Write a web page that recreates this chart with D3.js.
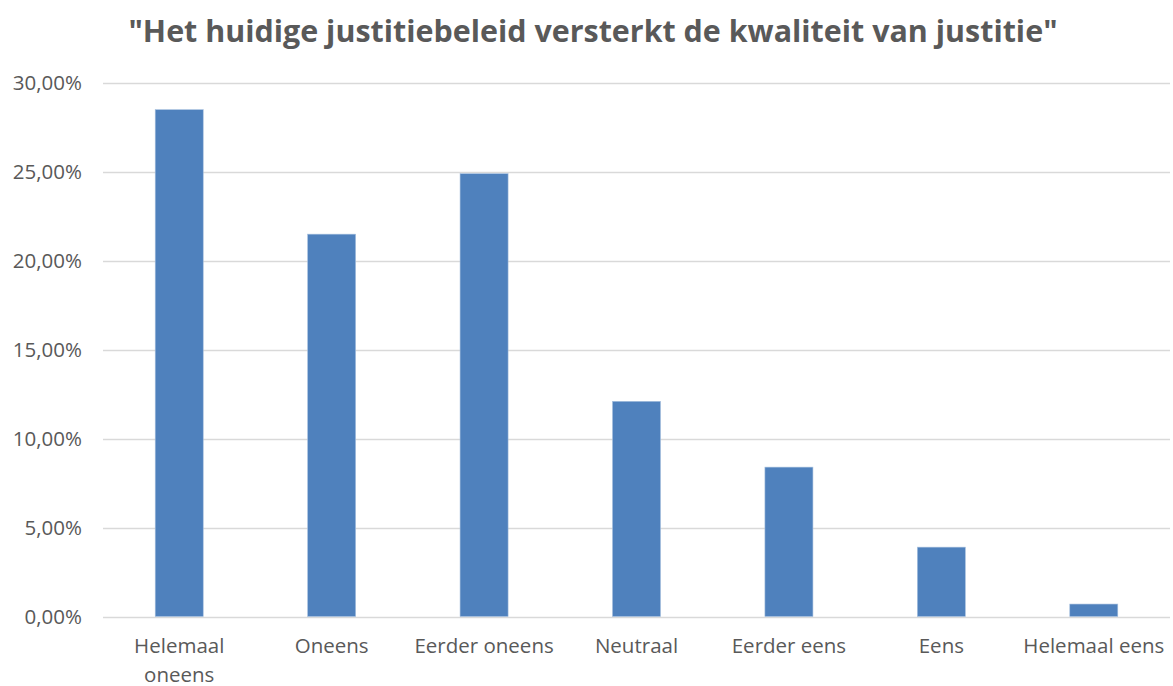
<!DOCTYPE html>
<html>
<head>
<meta charset="utf-8">
<script src="https://cdn.jsdelivr.net/npm/d3@7"></script>
<style>
  body { margin: 0; background: #fff; }
  svg { display: block; }
</style>
</head>
<body>
<div id="chart"></div>
<script>
// Data
var categories = ["Helemaal oneens", "Oneens", "Eerder oneens", "Neutraal", "Eerder eens", "Eens", "Helemaal eens"];
var values = [28.5, 21.5, 24.9, 12.1, 8.4, 3.9, 0.7];
var yTicks = [0, 5, 10, 15, 20, 25, 30];
var title = "\"Het huidige justitiebeleid versterkt de kwaliteit van justitie\"";

var W = 1173, H = 686,
    margin = {top: 83, right: 3, bottom: 70, left: 103},
    width = W - margin.left - margin.right,
    height = H - margin.top - margin.bottom,
    font = "'Open Sans', sans-serif",
    textColor = "#595959";

var svg = d3.select("#chart").append("svg")
  .attr("width", W)
  .attr("height", H);

// Title
svg.append("text")
  .attr("x", 593)
  .attr("y", 42)
  .attr("text-anchor", "middle")
  .attr("font-family", font)
  .attr("font-weight", "bold")
  .attr("font-size", "31px")
  .attr("fill", textColor)
  .attr("textLength", 929)
  .attr("lengthAdjust", "spacingAndGlyphs")
  .text(title);

var g = svg.append("g")
  .attr("transform", "translate(" + margin.left + "," + margin.top + ")");

var x = d3.scaleBand()
  .domain(categories)
  .range([0, width])
  .paddingInner(0.685)
  .paddingOuter(0.3425);

var y = d3.scaleLinear()
  .domain([0, 30])
  .range([height + 0.5, 0]);

// Gridlines
g.selectAll(".grid")
  .data(yTicks)
  .enter().append("line")
    .attr("class", "grid")
    .attr("x1", 0)
    .attr("x2", width)
    .attr("y1", function(d) { return Math.round(y(d)) + 0.5; })
    .attr("y2", function(d) { return Math.round(y(d)) + 0.5; })
    .attr("stroke", "#d9d9d9")
    .attr("stroke-width", 1.5);

// Y axis labels
var yAxis = d3.axisLeft(y)
  .tickSize(0)
  .tickValues(yTicks)
  .tickPadding(21)
  .tickFormat(function(d) { return d.toFixed(2).replace(".", ",") + "%"; });

g.append("g")
  .call(yAxis)
  .call(function(a) {
    a.select(".domain").remove();
    a.selectAll("text")
      .attr("font-family", font)
      .attr("font-size", "20.5px")
      .attr("fill", textColor);
  });

// Bars
g.selectAll(".bar")
  .data(values)
  .enter().append("rect")
    .attr("class", "bar")
    .attr("x", function(d, i) { return x(categories[i]); })
    .attr("width", x.bandwidth())
    .attr("y", function(d) { return y(d); })
    .attr("height", function(d) { return y(0) - y(d); })
    .attr("fill", "#4f81bd")
    .attr("stroke", "#a7c0de")
    .attr("stroke-width", 0.6);

// X axis labels (wrapped to band width)
var xAxis = d3.axisBottom(x).tickSize(0).tickPadding(0);

var xa = g.append("g")
  .attr("transform", "translate(0," + height + ")")
  .call(xAxis);
xa.select(".domain").remove();
xa.selectAll("text")
  .attr("font-family", font)
  .attr("font-size", "20.5px")
  .attr("fill", textColor)
  .attr("y", 0)
  .attr("dy", null)
  .each(function(d) {
    var t = d3.select(this),
        words = d.split(" "),
        lines = [],
        line = [];
    t.text(null);
    var probe = t.append("tspan");
    words.forEach(function(w) {
      line.push(w);
      probe.text(line.join(" "));
      if (probe.node().getComputedTextLength() > x.step() - 2 && line.length > 1) {
        line.pop();
        lines.push(line.join(" "));
        line = [w];
      }
    });
    lines.push(line.join(" "));
    probe.remove();
    lines.forEach(function(l, i) {
      t.append("tspan")
        .attr("x", 0)
        .attr("y", 37 + i * 29)
        .text(l);
    });
  });
</script>
</body>
</html>
